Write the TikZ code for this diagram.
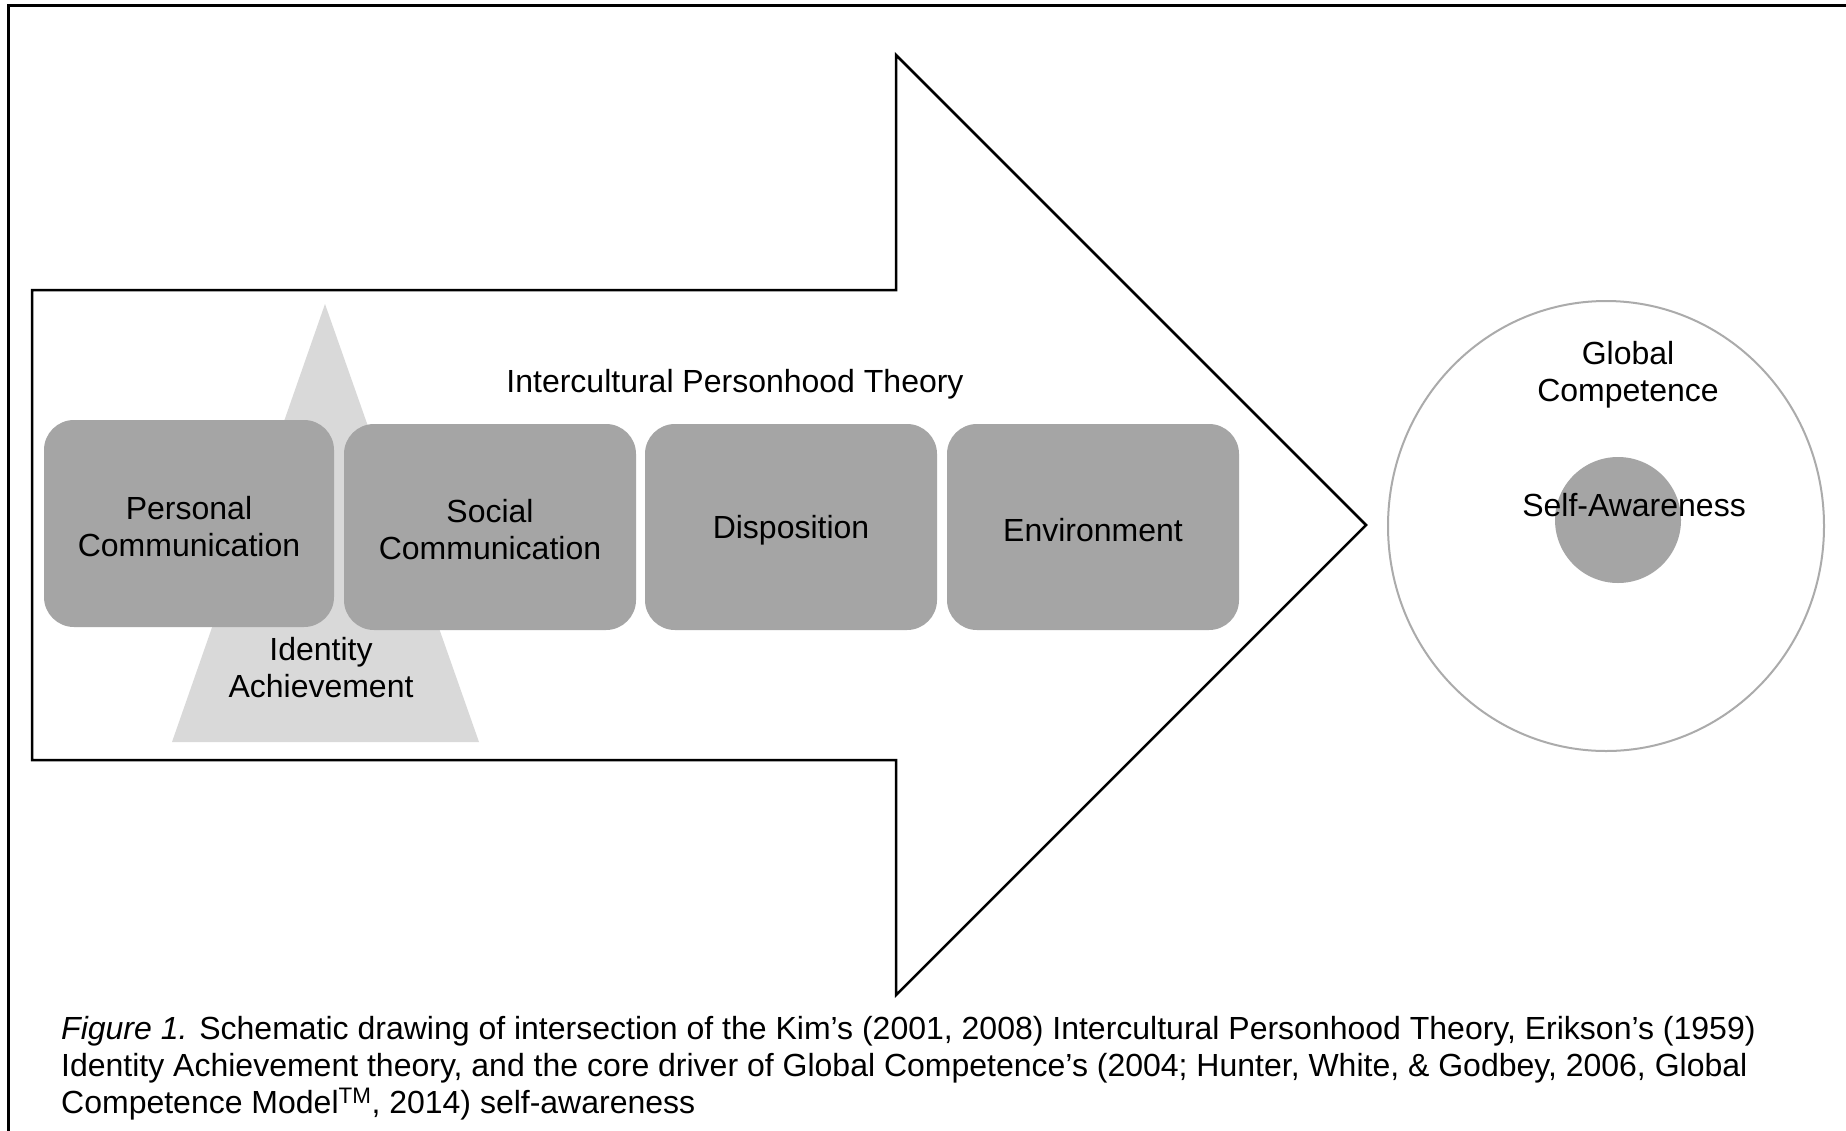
\documentclass[tikz,border=0pt]{standalone}
\usepackage{fontspec}
\setmainfont{Liberation Sans}
\definecolor{boxgray}{HTML}{A5A5A5}
\definecolor{trigray}{HTML}{D9D9D9}
\definecolor{circgray}{HTML}{ABABAB}
\begin{document}
\begin{tikzpicture}[x=1pt,y=-1pt,
  lbl/.style={font=\fontsize{32}{37}\selectfont, align=center, inner sep=0pt},
  boxtext/.style={lbl, yshift=-3pt},
  stagebox/.style={fill=boxgray, rounded corners=30pt, minimum width=292pt, minimum height=206pt, inner sep=0pt}]
\useasboundingbox (0,0) rectangle (1846,1130);
\fill[white] (0,0) rectangle (1846,1130);
\draw[line width=3pt] (8,1140) -- (8,5) -- (1856,5);
% big arrow
\draw[line width=2.5pt, fill=white, line join=miter]
  (32,290) -- (896,290) -- (896,55) -- (1366,525) -- (896,995) -- (896,760) -- (32,760) -- cycle;
% triangle
\fill[trigray] (325,304) -- (479,742) -- (172,742) -- cycle;
% stage boxes
\node[stagebox, minimum width=290pt, minimum height=207pt] (pc) at (189,523.5) {};
\node[stagebox] (sc) at (490,527) {};
\node[stagebox] (dp) at (791,527) {};
\node[stagebox] (en) at (1093,527) {};
\node[boxtext] (pct) at (pc.center) {Personal\\Communication};
\node[boxtext] (sct) at (sc.center) {Social\\Communication};
\node[boxtext] (dpt) at (dp.center) {Disposition};
\node[boxtext] (ent) at (en.center) {Environment};
\node[lbl] (ipt) at (735,384) {Intercultural Personhood Theory};
\node[lbl] (ia) at (321,668) {Identity\\Achievement};
% circles
\draw[circgray, line width=2pt] (1606,526) ellipse [x radius=218, y radius=225];
\fill[boxgray] (1618,520) circle [radius=63];
\node[lbl] (gc) at (1628,374.5) {Global\\Competence};
\node[lbl] (sa) at (1634,505) {Self-Awareness};
% caption (base anchor = baseline of last line)
\node[lbl, align=left, anchor=base west] (cap) at (61,1113)
  {\textit{Figure 1.} Schematic drawing of intersection of the Kim’s (2001, 2008) Intercultural Personhood Theory, Erikson’s (1959)\\
   Identity Achievement theory, and the core driver of Global Competence’s (2004; Hunter, White, \& Godbey, 2006, Global\\
   Competence Model\textsuperscript{TM}, 2014) self-awareness};
\end{tikzpicture}
\end{document}
